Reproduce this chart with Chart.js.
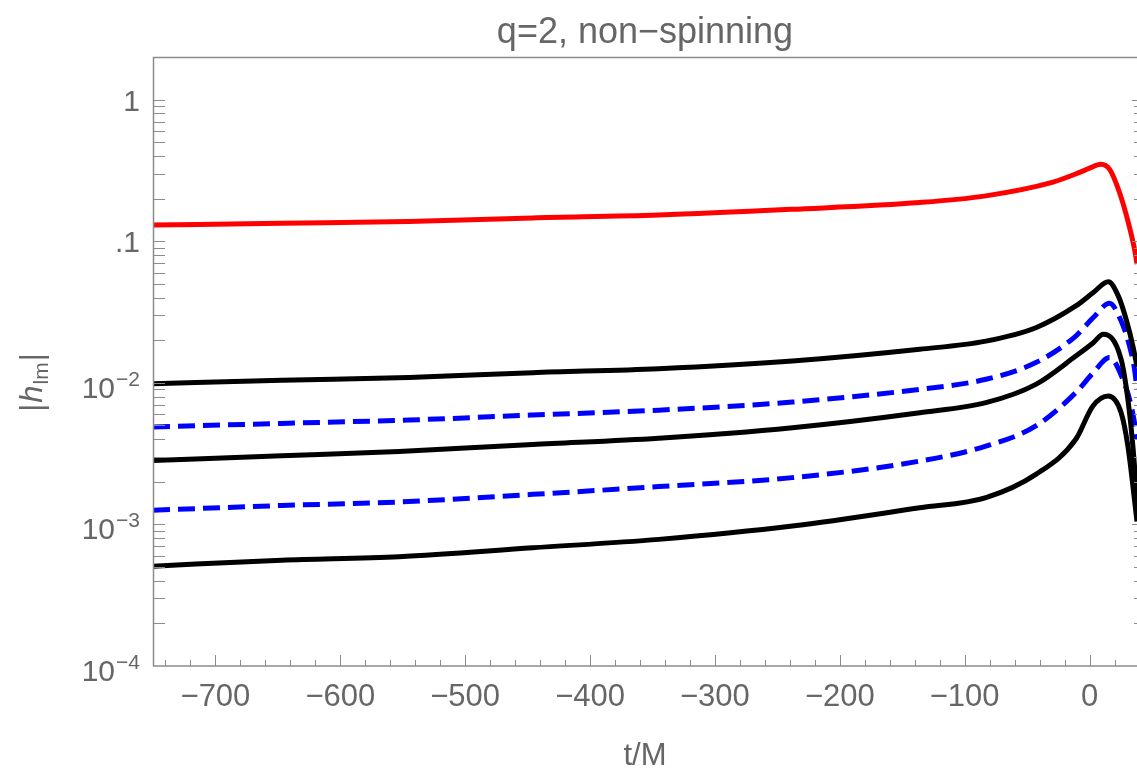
<!DOCTYPE html>
<html>
<head>
<meta charset="utf-8">
<script src="https://cdn.jsdelivr.net/npm/chart.js@4.4.1/dist/chart.umd.min.js"></script>
<style>
  html, body { margin: 0; padding: 0; background: #ffffff; }
</style>
</head>
<body>
<canvas id="modes" width="1137" height="770"></canvas>
<script>
// Mode amplitudes |h_lm| against t/M (q=2, non-spinning)
const t22 = [-750, -647, -545, -446, -345, -238, -136, -83, -30, -8, 0, 9, 16, 24, 31, 36, 38];
const h22 = [0.130, 0.134, 0.138, 0.146, 0.153, 0.168, 0.1875, 0.209, 0.26, 0.306, 0.328, 0.350, 0.323, 0.221, 0.136, 0.088, 0.069];

const tA = [-750, -647, -545, -446, -345, -238, -136, -83, -43, -11, 3, 15, 23, 29.4, 34.7, 38];
const hA = [0.00986, 0.01042, 0.01089, 0.0118, 0.01259, 0.01426, 0.01726, 0.0197, 0.0245, 0.0349, 0.0434, 0.0517, 0.0411, 0.0279, 0.0182, 0.0130];

const tB = [-750, -647, -545, -446, -345, -238, -136, -83, -43, -11, 3, 16, 25.3, 32, 36, 38];
const hB = [0.00488, 0.00517, 0.00546, 0.00592, 0.00641, 0.00731, 0.0090, 0.01059, 0.0139, 0.0214, 0.0289, 0.0365, 0.0273, 0.0182, 0.0125, 0.0090];

const tC = [-750, -647, -553, -446, -345, -238, -136, -83, -43, -11, 3, 11, 25.3, 30.7, 34.7, 38];
const hC = [0.00283, 0.00305, 0.00327, 0.00367, 0.00406, 0.00482, 0.00615, 0.00724, 0.00975, 0.01545, 0.0192, 0.0220, 0.01466, 0.00764, 0.00357, 0.00150];

const tD = [-750, -647, -553, -446, -345, -238, -136, -83, -43, -11, 3, 16, 26.7, 33.4, 36.9, 38];
const hD = [0.00126, 0.00136, 0.00144, 0.00163, 0.00185, 0.00214, 0.00280, 0.00357, 0.00496, 0.00853, 0.0118, 0.01508, 0.0106, 0.00686, 0.00469, 0.0040];

const tE = [-750, -647, -553, -446, -345, -238, -136, -83, -43, -11, 2.7, 15, 25.3, 30.7, 38];
const hE = [0.000507, 0.000559, 0.000592, 0.000684, 0.000784, 0.000973, 0.00131, 0.001546, 0.002254, 0.00399, 0.00686, 0.00807, 0.00615, 0.00357, 0.00105];

// axis ticks and their labels
const xMajor = [-700, -600, -500, -400, -300, -200, -100, 0];
const xMinorStep = 20;
const yMajor = [1, 0.1, 0.01, 0.001, 0.0001];
const yBase = ['1', '.1', '10', '10', '10'];
const yExp = ['', '', '\u22122', '\u22123', '\u22124'];

const GRAY = '#8c8c8c';
const TEXT = '#666666';
const FONT = '"Liberation Sans", Arial, sans-serif';

function zip(ts, hs) {
  return ts.map((t, i) => ({ x: t, y: hs[i] }));
}

function series(ts, hs, color, dashed) {
  return {
    data: zip(ts, hs),
    borderColor: color,
    borderWidth: 5,
    borderDash: dashed ? [17, 8] : [],
    pointRadius: 0,
    fill: false,
    cubicInterpolationMode: 'monotone',
  };
}

// Frame, inward ticks and all text drawn on top of the plot area
const frameAndLabels = {
  id: 'frameAndLabels',
  afterDraw(chart) {
    const { ctx, chartArea: a, scales } = chart;
    const x = scales.x;
    const y = scales.y;
    ctx.save();

    ctx.strokeStyle = GRAY;
    ctx.lineWidth = 1.5;
    ctx.beginPath();
    ctx.moveTo(a.right, a.top + 0.5);
    ctx.lineTo(a.left + 0.5, a.top + 0.5);
    ctx.lineTo(a.left + 0.5, a.bottom);
    ctx.lineTo(a.right, a.bottom);
    ctx.stroke();

    // bottom ticks
    ctx.lineWidth = 1;
    ctx.beginPath();
    for (let v = -740; v <= x.max; v += xMinorStep) {
      const px = Math.round(x.getPixelForValue(v)) + 0.5;
      const len = v % 100 === 0 ? 11 : 6;
      ctx.moveTo(px, a.bottom);
      ctx.lineTo(px, a.bottom - len);
    }
    // left and right ticks on the log axis
    for (let e = -4; e <= 0; e++) {
      for (let m = 1; m <= 9; m++) {
        const v = m * Math.pow(10, e);
        if (v <= y.min || v >= y.max) continue;
        const py = Math.round(y.getPixelForValue(v)) + 0.5;
        ctx.moveTo(a.left, py);
        ctx.lineTo(a.left + 12, py);
        ctx.moveTo(a.right, py);
        ctx.lineTo(a.right - (m === 1 ? 5 : 3), py);
      }
    }
    ctx.stroke();

    ctx.fillStyle = TEXT;

    // x tick labels
    ctx.font = '31px ' + FONT;
    ctx.textAlign = 'center';
    ctx.textBaseline = 'alphabetic';
    xMajor.forEach(v => {
      const label = v < 0 ? '\u2212' + Math.abs(v) : String(v);
      ctx.fillText(label, x.getPixelForValue(v), a.bottom + 40);
    });

    // y tick labels with exponents
    ctx.textAlign = 'right';
    yMajor.forEach((v, i) => {
      const py = y.getPixelForValue(v);
      const right = a.left - 13;
      if (yExp[i]) {
        ctx.font = '21px ' + FONT;
        const ew = ctx.measureText(yExp[i]).width;
        ctx.fillText(yExp[i], right, py + 3);
        ctx.font = '30px ' + FONT;
        ctx.fillText(yBase[i], right - ew - 1, py + 15);
      } else {
        ctx.font = '30px ' + FONT;
        ctx.fillText(yBase[i], right, py + 11);
      }
    });

    // title and axis titles
    ctx.textAlign = 'center';
    ctx.font = '36px ' + FONT;
    ctx.fillText('q=2, non\u2212spinning', (a.left + a.right) / 2, 43);
    ctx.font = '31px ' + FONT;
    ctx.fillText('t/M', (a.left + a.right) / 2, 765);

    // |h_lm| rotated along the left edge
    ctx.translate(42, 382);
    ctx.rotate(-Math.PI / 2);
    ctx.textAlign = 'left';
    const parts = [
      { s: '|', f: '31px ' + FONT, dy: 0 },
      { s: 'h', f: 'italic 31px ' + FONT, dy: 0 },
      { s: 'lm', f: '21px ' + FONT, dy: 6 },
      { s: '|', f: '31px ' + FONT, dy: 0 },
    ];
    let w = 0;
    parts.forEach(p => { ctx.font = p.f; w += ctx.measureText(p.s).width + 1; });
    let cx = -w / 2;
    parts.forEach(p => {
      ctx.font = p.f;
      ctx.fillText(p.s, cx, p.dy);
      cx += ctx.measureText(p.s).width + 1;
    });

    ctx.restore();
  }
};

new Chart(document.getElementById('modes').getContext('2d'), {
  type: 'line',
  data: {
    datasets: [
      series(t22, h22, '#ff0000', false),
      series(tA, hA, '#000000', false),
      series(tB, hB, '#0000ff', true),
      series(tC, hC, '#000000', false),
      series(tD, hD, '#0000ff', true),
      series(tE, hE, '#000000', false),
    ],
  },
  options: {
    responsive: false,
    animation: false,
    devicePixelRatio: 1,
    layout: { padding: { left: 153, top: 57, right: 0, bottom: 104 } },
    scales: {
      x: { type: 'linear', min: -750, max: 38, display: false },
      y: { type: 'logarithmic', min: 0.0001, max: 2, display: false },
    },
    plugins: {
      legend: { display: false },
      tooltip: { enabled: false },
      title: { display: false },
    },
  },
  plugins: [frameAndLabels],
});
</script>
</body>
</html>
